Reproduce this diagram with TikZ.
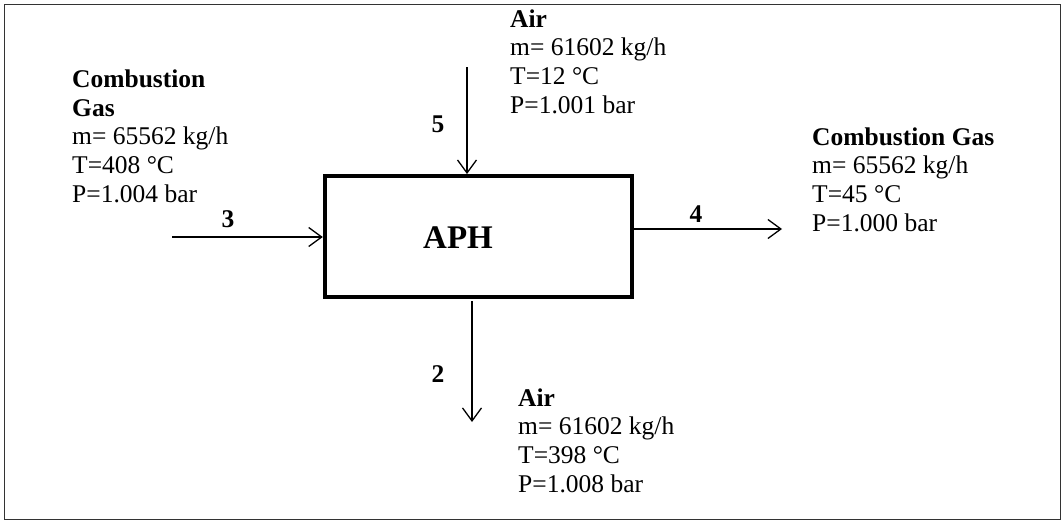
\documentclass[tikz,border=0pt]{standalone}
\usepackage{fontspec}
\setmainfont{Liberation Serif}
\usetikzlibrary{arrows.meta}
\tikzset{
  txt/.style={font=\fontsize{25.5}{28.6}\selectfont, align=left, inner sep=0pt, anchor=base west},
  num/.style={font=\fontsize{25.5}{28.6}\selectfont\bfseries, inner sep=0pt, anchor=base},
  flow/.style={line width=1.3pt, -{Straight Barb[length=13pt,width=19pt]}},
  unit/.style={draw, line width=4pt, minimum width=307pt, minimum height=120.5pt, inner sep=0pt}
}
\begin{document}
\begin{tikzpicture}[x=1pt,y=-1pt]
\useasboundingbox (0,0) rectangle (1064,522);
\draw[line width=1.6pt, black!80] (4.5,4.5) rectangle (1060.5,519.5);
% unit
\node[unit] (aph) at (478.3,236.3) {};
\node[font=\fontsize{33}{36}\selectfont\bfseries, inner sep=0pt, anchor=base] (aphlbl) at (458,248) {APH};
% stream 5 in
\coordinate (s5) at (467,67);
\draw[flow] (s5) -- (s5 |- aph.north);
% stream 3 in
\coordinate (s3) at (172,237);
\draw[flow] (s3) -- (s3 -| aph.west);
% stream 4 out
\coordinate (e4) at (782,229);
\draw[flow] (e4 -| aph.east) -- (e4);
% stream 2 out
\coordinate (b2) at (472,301);
\coordinate (e2) at (472,422);
\draw[flow] (b2) -- (e2);
% numbers
\node[num] (n5) at (438,132) {5};
\node[num] (n3) at (228,227) {3};
\node[num] (n4) at (696,222) {4};
\node[num] (n2) at (438,382) {2};
% texts (anchor is the baseline of the last line)
\node[txt] (t3) at (72,202) {\textbf{Combustion}\\\textbf{Gas}\\m= 65562 kg/h\\T=408 °C\\P=1.004 bar};
\node[txt] (t5) at (510,113) {\textbf{Air}\\m= 61602 kg/h\\T=12 °C\\P=1.001 bar};
\node[txt] (t4) at (812,231) {\textbf{Combustion Gas}\\m= 65562 kg/h\\T=45 °C\\P=1.000 bar};
\node[txt] (t2) at (518,492) {\textbf{Air}\\m= 61602 kg/h\\T=398 °C\\P=1.008 bar};
\end{tikzpicture}
\end{document}
